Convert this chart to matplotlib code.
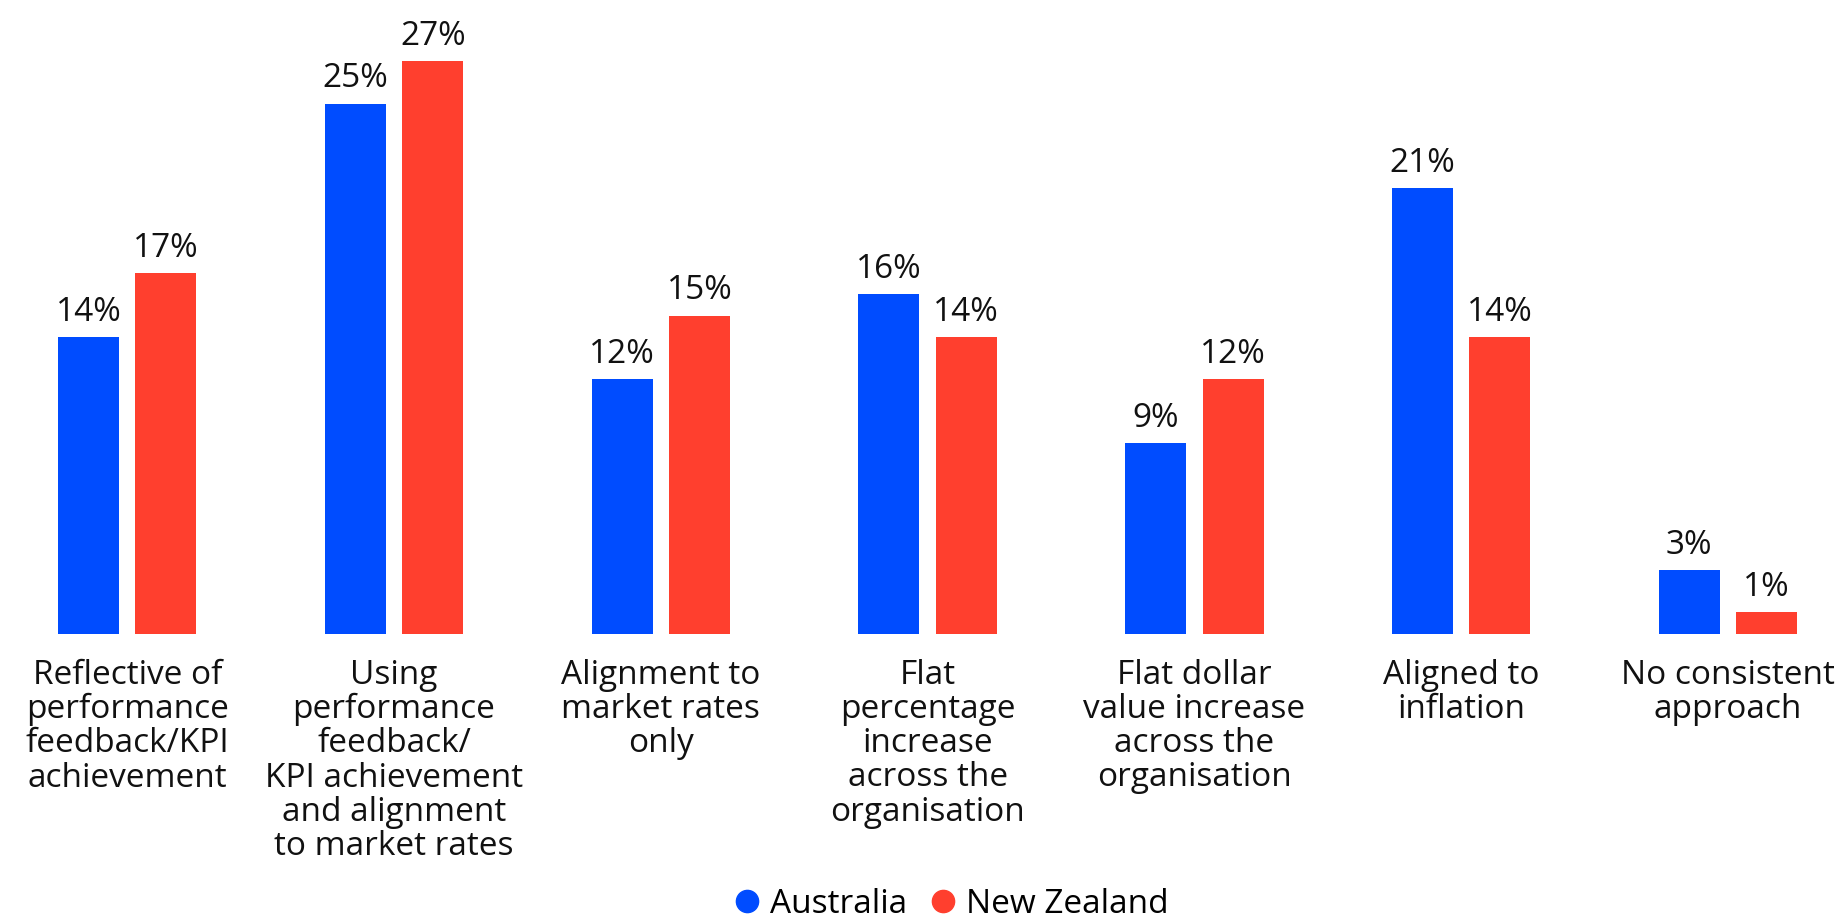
import numpy as np
import matplotlib
matplotlib.use("Agg")
import matplotlib.pyplot as plt
from matplotlib.lines import Line2D

plt.rcParams['font.family'] = ['Open Sans', 'DejaVu Sans']

categories = [
    "Reflective of\nperformance\nfeedback/KPI\nachievement",
    "Using\nperformance\nfeedback/\nKPI achievement\nand alignment\nto market rates",
    "Alignment to\nmarket rates\nonly",
    "Flat\npercentage\nincrease\nacross the\norganisation",
    "Flat dollar\nvalue increase\nacross the\norganisation",
    "Aligned to\ninflation",
    "No consistent\napproach",
]
australia = [14, 25, 12, 16, 9, 21, 3]
new_zealand = [17, 27, 15, 14, 12, 14, 1]

blue = '#004CFF'
red = '#FF3F2E'
text_col = '#111111'

fig = plt.figure(figsize=(18.4, 9.16), dpi=100)
ax = fig.add_axes([0, 0.3082, 1, 0.6918])

x = np.arange(len(categories))
w = 0.229
off = 0.145
b1 = ax.bar(x - off, australia, w, color=blue)
b2 = ax.bar(x + off, new_zealand, w, color=red)

for bars, vals in ((b1, australia), (b2, new_zealand)):
    for rect, v in zip(bars, vals):
        ax.annotate(f"{v}%", (rect.get_x() + rect.get_width() / 2, v),
                    xytext=(0, 6), textcoords='offset points',
                    ha='center', va='bottom', fontsize=24, color=text_col)

ax.set_xlim(-0.477, 6.42)
ax.set_ylim(0, 29.89)
ax.set_xticks(x)
ax.set_xticklabels(categories, fontsize=24, color=text_col, linespacing=1.05, va='top')
ax.tick_params(axis='x', length=0, pad=18)
ax.set_yticks([])
for s in ax.spines.values():
    s.set_visible(False)

handles = [
    Line2D([], [], marker='o', linestyle='none', markersize=16, color=blue, label='Australia'),
    Line2D([], [], marker='o', linestyle='none', markersize=16, color=red, label='New Zealand'),
]
fig.legend(handles=handles, loc='upper center', bbox_to_anchor=(0.516, 0.045),
           ncol=2, frameon=False, fontsize=24, handlelength=1.0, handletextpad=0.2,
           columnspacing=0.58, borderaxespad=0)

fig.savefig('out.png', dpi=100)
